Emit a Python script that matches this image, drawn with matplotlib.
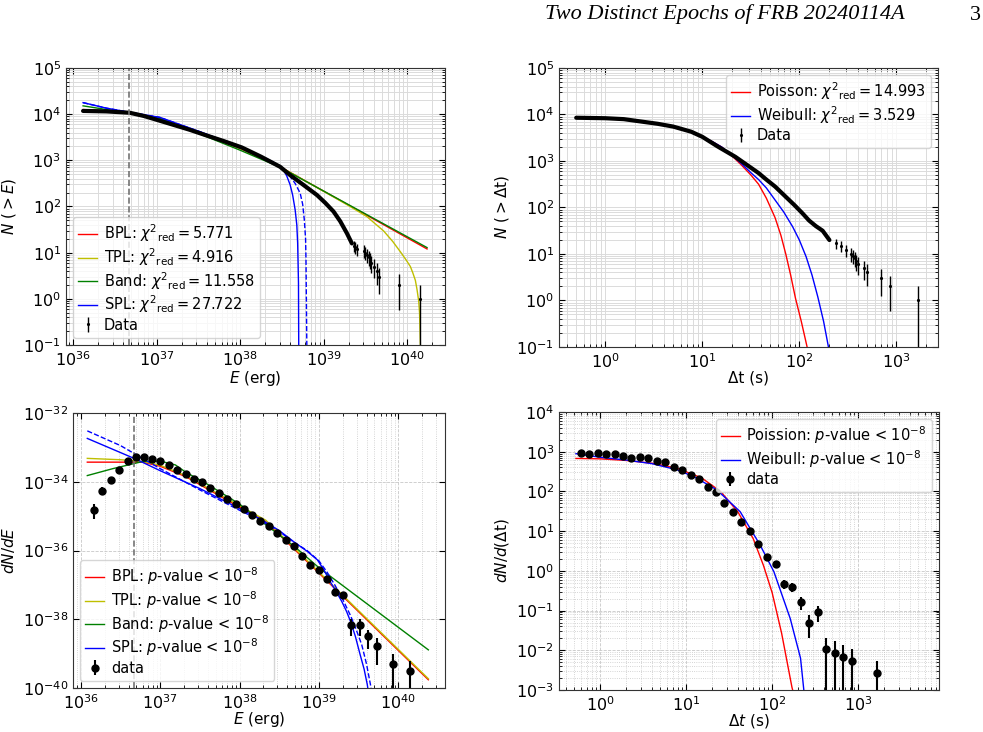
import numpy as np
import matplotlib.pyplot as plt
from matplotlib.ticker import LogLocator, NullLocator, NullFormatter

# ---------- top left: N(>E), values stored as log10 ----------
cumE_body_logE = [36.12, 36.4, 36.68, 36.85, 36.98, 37.2, 37.4, 37.58, 37.8, 38.02,
                  38.25, 38.48, 38.6, 38.75, 38.92, 39.02, 39.12, 39.2, 39.28, 39.34]
cumE_body_logN = [4.07, 4.06, 4.03, 3.96, 3.89, 3.77, 3.66, 3.55, 3.42, 3.28,
                  3.08, 2.86, 2.68, 2.48, 2.25, 2.08, 1.89, 1.68, 1.42, 1.20]
cumE_tail_logE = [39.36, 39.38, 39.40, 39.48, 39.50, 39.52, 39.54, 39.56, 39.57,
                  39.60, 39.64, 39.67, 39.90, 40.16]
cumE_tail_N = [14, 13, 12, 11, 10, 9, 8, 7, 6, 5, 4, 3, 2, 1]

bpl_cum_logE = [36.12, 36.4, 36.68, 37.04, 37.52, 38.0, 38.48, 40.24]
bpl_cum_logN = [4.10, 4.07, 4.03, 3.92, 3.59, 3.26, 2.86, 1.08]
tpl_cum_logE = [36.12, 36.4, 36.68, 37.04, 37.52, 38.0, 38.48, 39.0, 39.3, 39.52,
                39.72, 39.83, 39.92, 39.99, 40.04, 40.07, 40.10, 40.12, 40.14, 40.15, 40.16]
tpl_cum_logN = [4.08, 4.06, 4.03, 3.92, 3.59, 3.26, 2.86, 2.33, 2.02, 1.78,
                1.47, 1.24, 1.02, 0.84, 0.70, 0.56, 0.40, 0.20, -0.05, -0.30, -1.0]
band_cum_logE = [36.12, 36.4, 36.68, 37.04, 37.52, 38.0, 38.48, 40.24]
band_cum_logN = [4.18, 4.10, 4.03, 3.91, 3.57, 3.22, 2.85, 1.11]
spl_cum_logE = [36.12, 36.4, 36.68, 37.04, 37.52, 38.0, 38.3, 38.4, 38.52, 38.56,
                38.60, 38.63, 38.66, 38.68, 38.69, 38.70, 38.703]
spl_cum_logN = [4.25, 4.13, 4.04, 3.93, 3.62, 3.29, 3.05, 2.96, 2.79, 2.66,
                2.47, 2.25, 1.93, 1.60, 1.21, 0.35, -1.0]
spl2_cum_logE = [36.12, 36.4, 36.68, 37.04, 37.52, 38.0, 38.3, 38.45, 38.52, 38.60,
                 38.66, 38.72, 38.75, 38.77, 38.785, 38.79, 38.80]
spl2_cum_logN = [4.25, 4.13, 4.04, 3.93, 3.62, 3.29, 3.05, 2.91, 2.82, 2.65,
                 2.50, 2.29, 2.05, 1.71, 1.30, 0.84, -1.0]
E_threshold = 4.7e36

# ---------- top right: N(>dt), log10 ----------
cumT_body_logT = [-0.30, 0.0, 0.19, 0.54, 0.7, 0.885, 1.0, 1.16, 1.25, 1.34,
                  1.45, 1.58, 1.66, 1.75, 1.86, 1.95, 2.03, 2.10, 2.17, 2.24, 2.31]
cumT_body_logN = [3.93, 3.92, 3.90, 3.80, 3.74, 3.63, 3.52, 3.31, 3.20, 3.09,
                  2.93, 2.74, 2.60, 2.45, 2.23, 2.05, 1.88, 1.72, 1.60, 1.50, 1.30]
cumT_tail_logT = [2.38, 2.43, 2.48, 2.53, 2.55, 2.57, 2.58, 2.60, 2.67, 2.70,
                  2.84, 2.93, 3.22]
cumT_tail_N = [17, 15, 12, 10, 9, 8, 7, 6, 5, 4, 3, 2, 1]

poi_cum_logT = [-0.30, 0.0, 0.3, 0.6, 0.9, 1.1, 1.2, 1.3, 1.4, 1.5, 1.58, 1.66,
                1.75, 1.81, 1.86, 1.91, 1.96, 2.02, 2.08]
poi_cum_logN = [3.93, 3.91, 3.87, 3.78, 3.61, 3.42, 3.30, 3.12, 2.92, 2.70, 2.50, 2.20,
                1.78, 1.40, 1.00, 0.55, 0.05, -0.45, -1.0]
wei_cum_logT = [-0.30, 0.0, 0.3, 0.6, 0.9, 1.1, 1.2, 1.3, 1.4, 1.5, 1.58, 1.66,
                1.75, 1.84, 1.93, 2.0, 2.07, 2.13, 2.19, 2.25, 2.30]
wei_cum_logN = [3.94, 3.92, 3.88, 3.79, 3.62, 3.42, 3.30, 3.13, 2.95, 2.75, 2.60, 2.42,
                2.16, 1.90, 1.59, 1.30, 0.94, 0.55, 0.08, -0.45, -1.0]

# ---------- bottom left: dN/dE, log10 ----------
dE_logE = [36.17, 36.27, 36.38, 36.48, 36.59, 36.69, 36.80, 36.90, 37.00, 37.11,
           37.21, 37.32, 37.42, 37.53, 37.63, 37.74, 37.84, 37.95, 38.05, 38.16,
           38.26, 38.37, 38.47, 38.58, 38.68, 38.79, 38.89, 39.00, 39.10, 39.20,
           39.31, 39.41, 39.52, 39.62, 39.73, 39.94, 40.15]
dE_logdN = [-34.82, -34.26, -33.95, -33.66, -33.39, -33.29, -33.29, -33.34, -33.39, -33.52,
            -33.66, -33.78, -33.93, -34.02, -34.19, -34.34, -34.49, -34.65, -34.80, -34.97,
            -35.14, -35.29, -35.50, -35.69, -35.86, -36.15, -36.41, -36.58, -36.83, -37.21,
            -37.29, -38.18, -38.18, -38.50, -38.79, -39.30, -39.51]
dE_relerr = [0.45, 0.25, 0.18, 0.13, 0.1, 0.08, 0.08, 0.08, 0.08, 0.08,
             0.08, 0.08, 0.08, 0.08, 0.08, 0.08, 0.08, 0.08, 0.08, 0.1,
             0.1, 0.1, 0.1, 0.12, 0.13, 0.15, 0.17, 0.2, 0.22, 0.25,
             0.25, 0.5, 0.5, 0.58, 0.71, 1.0, 1.0]

bpl_d_logE = [36.08, 36.78, 37.0, 37.32, 38.0, 38.33, 38.98, 40.38]
bpl_d_log = [-33.43, -33.43, -33.55, -33.85, -34.74, -35.16, -36.61, -39.76]
tpl_d_logE = [36.08, 36.5, 36.78, 37.0, 37.32, 38.0, 38.33, 38.98, 40.38]
tpl_d_log = [-33.32, -33.36, -33.41, -33.52, -33.82, -34.70, -35.12, -36.58, -39.73]
band_d_logE = [36.08, 36.4, 36.78, 37.0, 37.19, 37.32, 37.6, 38.0, 38.33, 38.7, 39.0, 40.38]
band_d_log = [-33.82, -33.62, -33.41, -33.40, -33.51, -33.72, -34.08, -34.65, -35.25,
              -35.90, -36.50, -38.89]
spl_d_logE = [36.08, 36.69, 37.0, 37.5, 38.0, 38.26, 38.5, 38.68, 38.85, 38.98,
              39.06, 39.14, 39.22, 39.29, 39.35, 39.40, 39.46, 39.52, 39.57, 39.61, 39.63]
spl_d_log = [-32.74, -33.34, -33.68, -34.20, -34.78, -35.08, -35.42, -35.74, -36.02, -36.27,
             -36.55, -36.90, -37.20, -37.49, -37.78, -38.07, -38.50, -39.03, -39.45, -39.90, -40.2]
spl2_d_logE = [36.08, 36.5, 37.0, 37.5, 38.0, 38.26, 38.5, 38.7, 38.85, 39.0,
               39.1, 39.2, 39.3, 39.4, 39.47, 39.54, 39.6, 39.65, 39.67]
spl2_d_log = [-32.52, -32.95, -33.62, -34.24, -34.83, -35.12, -35.45, -35.78, -36.00, -36.30,
              -36.62, -37.00, -37.42, -37.90, -38.30, -38.74, -39.30, -39.90, -40.2]

# ---------- bottom right: dN/d(dt), log10 ----------
dT_logT = [-0.225, -0.124, -0.027, 0.070, 0.171, 0.267, 0.364, 0.465, 0.562, 0.659,
           0.760, 0.857, 0.953, 1.054, 1.151, 1.252, 1.349, 1.446, 1.547, 1.643,
           1.744, 1.841, 1.938, 2.039, 2.136, 2.236, 2.333, 2.430, 2.531, 2.628,
           2.729, 2.826, 2.926, 3.217]
dT_logdN = [2.96, 2.93, 2.96, 2.94, 2.93, 2.88, 2.84, 2.87, 2.84, 2.77,
            2.73, 2.62, 2.53, 2.42, 2.32, 2.10, 1.98, 1.72, 1.47, 1.24,
            1.00, 0.67, 0.36, 0.18, -0.33, -0.41, -0.79, -1.31, -1.04, -1.98,
            -2.08, -2.18, -2.27, -2.58]
dT_relerr = [0.04, 0.04, 0.04, 0.04, 0.04, 0.04, 0.04, 0.04, 0.04, 0.05,
             0.05, 0.05, 0.06, 0.06, 0.07, 0.08, 0.09, 0.1, 0.11, 0.12,
             0.13, 0.14, 0.15, 0.2, 0.26, 0.26, 0.38, 0.58, 0.45, 1.0,
             1.0, 1.0, 1.0, 1.0]

poi_d_logT = [-0.28, 0.0, 0.3, 0.6, 0.9, 1.18, 1.4, 1.6, 1.78, 1.9, 2.0, 2.11, 2.23, 2.25]
poi_d_log = [2.83, 2.82, 2.78, 2.71, 2.58, 2.34, 2.00, 1.49, 0.81, 0.13, -0.55, -1.57, -2.93, -3.1]
wei_d_logT = [-0.28, 0.0, 0.3, 0.6, 0.9, 1.1, 1.357, 1.628, 1.86, 2.02, 2.21, 2.33, 2.37]
wei_d_log = [2.95, 2.86, 2.79, 2.70, 2.54, 2.36, 2.04, 1.49, 0.65, -0.02, -1.20, -2.2, -3.04]


def p10(v):
    return 10.0 ** np.asarray(v, dtype=float)


def style(ax, top_panel):
    ax.set_xscale('log')
    ax.set_yscale('log')
    ax.tick_params(which='both', direction='in', top=True, right=True, labelsize=11.5)
    ax.tick_params(which='major', length=4)
    ax.tick_params(which='minor', length=2)
    if top_panel:
        ax.grid(True, which='both', color='0.86', lw=0.7)
    else:
        ax.grid(True, which='major', color='0.78', lw=0.6, ls='--')
        ax.grid(True, which='minor', color='0.78', lw=0.6, ls=':')
    for s in ax.spines.values():
        s.set_color('0.2')


leg_kw = dict(fontsize=10.5, handlelength=1.3, handletextpad=0.45, labelspacing=0.15,
              borderpad=0.35, borderaxespad=0.5)

fig = plt.figure(figsize=(9.83, 7.32), dpi=100)

# header line of the paper page
fig.text(905 / 983, 1 - 19.5 / 732, 'Two Distinct Epochs of FRB 20240114A', ha='right',
         va='baseline', family='Liberation Serif', style='italic', fontsize=16)
fig.text(981 / 983, 1 - 19.5 / 732, '3', ha='right', va='baseline',
         family='Liberation Serif', fontsize=16)

# ---- top left ----
ax1 = fig.add_axes([0.0671, 0.5287, 0.3856, 0.3784])
style(ax1, True)
ax1.plot(p10(bpl_cum_logE), p10(bpl_cum_logN), 'r', lw=1, label=r'BPL: $\chi^2{}_{\rm red} = 5.771$')
ax1.plot(p10(tpl_cum_logE), p10(tpl_cum_logN), 'y', lw=1, label=r'TPL: $\chi^2{}_{\rm red} = 4.916$')
ax1.plot(p10(band_cum_logE), p10(band_cum_logN), 'g', lw=1, label=r'Band: $\chi^2{}_{\rm red} = 11.558$')
ax1.plot(p10(spl_cum_logE), p10(spl_cum_logN), 'b', lw=1, label=r'SPL: $\chi^2{}_{\rm red} = 27.722$')
ax1.plot(p10(spl2_cum_logE), p10(spl2_cum_logN), 'b--', lw=1)
ax1.plot(p10(cumE_body_logE), p10(cumE_body_logN), 'k-', lw=3, solid_capstyle='round',
         solid_joinstyle='round')
tN = np.array(cumE_tail_N, dtype=float)
ax1.errorbar(p10(cumE_tail_logE), tN, yerr=np.sqrt(tN), fmt='k.', ms=2.5, elinewidth=1,
             label='Data')
ax1.axvline(E_threshold, color='0.45', ls='--', lw=1.2)
ax1.set_xlim(10 ** 35.915, 10 ** 40.455)
ax1.set_ylim(0.1, 1e5)
ax1.set_xlabel(r'$E$ (erg)', fontsize=11, labelpad=0)
ax1.set_ylabel(r'$N\ (>E)$', fontsize=11)
ax1.legend(loc='lower left', **leg_kw)

# ---- top right ----
ax2 = fig.add_axes([0.5687, 0.5260, 0.3856, 0.3811])
style(ax2, True)
ax2.plot(p10(poi_cum_logT), p10(poi_cum_logN), 'r', lw=1, label=r'Poisson: $\chi^2{}_{\rm red} = 14.993$')
ax2.plot(p10(wei_cum_logT), p10(wei_cum_logN), 'b', lw=1, label=r'Weibull: $\chi^2{}_{\rm red} = 3.529$')
ax2.plot(p10(cumT_body_logT), p10(cumT_body_logN), 'k-', lw=3, solid_capstyle='round',
         solid_joinstyle='round')
tN2 = np.array(cumT_tail_N, dtype=float)
ax2.errorbar(p10(cumT_tail_logT), tN2, yerr=np.sqrt(tN2), fmt='k.', ms=2.5, elinewidth=1,
             label='Data')
ax2.set_xlim(10 ** -0.477, 10 ** 3.43)
ax2.set_ylim(0.1, 1e5)
ax2.set_xlabel('\u0394t (s)', fontsize=11, labelpad=0)
ax2.set_ylabel(r'$N\ (>\Delta \rm t)$', fontsize=11)
ax2.legend(loc='upper right', **leg_kw)

# ---- bottom left ----
ax3 = fig.add_axes([0.0743, 0.0601, 0.3784, 0.3757])
style(ax3, False)
ax3.plot(p10(bpl_d_logE), p10(bpl_d_log), 'r', lw=1, label=r'BPL: $p$-value < $10^{-8}$')
ax3.plot(p10(tpl_d_logE), p10(tpl_d_log), 'y', lw=1, label=r'TPL: $p$-value < $10^{-8}$')
ax3.plot(p10(band_d_logE), p10(band_d_log), 'g', lw=1, label=r'Band: $p$-value < $10^{-8}$')
ax3.plot(p10(spl_d_logE), p10(spl_d_log), 'b', lw=1, label=r'SPL: $p$-value < $10^{-8}$')
ax3.plot(p10(spl2_d_logE), p10(spl2_d_log), 'b--', lw=1)
v = p10(dE_logdN)
ax3.errorbar(p10(dE_logE), v, yerr=v * np.array(dE_relerr), fmt='ko', ms=5, elinewidth=1.5,
             label='data')
ax3.axvline(E_threshold, color='0.45', ls='--', lw=1.2)
ax3.set_xlim(10 ** 35.9, 10 ** 40.59)
ax3.set_ylim(1e-40, 1e-32)
ax3.set_yticks([1e-40, 1e-38, 1e-36, 1e-34, 1e-32])
ax3.yaxis.set_minor_locator(NullLocator())
ax3.set_xlabel(r'$E$ (erg)', fontsize=11, labelpad=-1)
ax3.set_ylabel(r'$dN/dE$', fontsize=11)
ax3.legend(loc='lower left', **leg_kw)

# ---- bottom right ----
ax4 = fig.add_axes([0.5687, 0.0574, 0.3866, 0.3798])
style(ax4, False)
ax4.plot(p10(poi_d_logT), p10(poi_d_log), 'r', lw=1, label=r'Poission: $p$-value < $10^{-8}$')
ax4.plot(p10(wei_d_logT), p10(wei_d_log), 'b', lw=1, label=r'Weibull: $p$-value < $10^{-8}$')
v = p10(dT_logdN)
ax4.errorbar(p10(dT_logT), v, yerr=v * np.array(dT_relerr), fmt='ko', ms=5, elinewidth=1.5,
             label='data')
ax4.set_xlim(10 ** -0.477, 10 ** 3.94)
ax4.set_ylim(1e-3, 1e4)
ax4.yaxis.set_major_locator(LogLocator(base=10, numticks=12))
ax4.yaxis.set_minor_locator(LogLocator(base=10, subs=np.arange(2, 10), numticks=12))
ax4.yaxis.set_minor_formatter(NullFormatter())
ax4.set_xlabel(r'$\Delta t$ (s)', fontsize=11, labelpad=-1)
ax4.set_ylabel(r'$dN/d(\Delta \rm t)$', fontsize=11)
ax4.legend(loc='upper right', **leg_kw)

fig.savefig('out.png', dpi=100)
